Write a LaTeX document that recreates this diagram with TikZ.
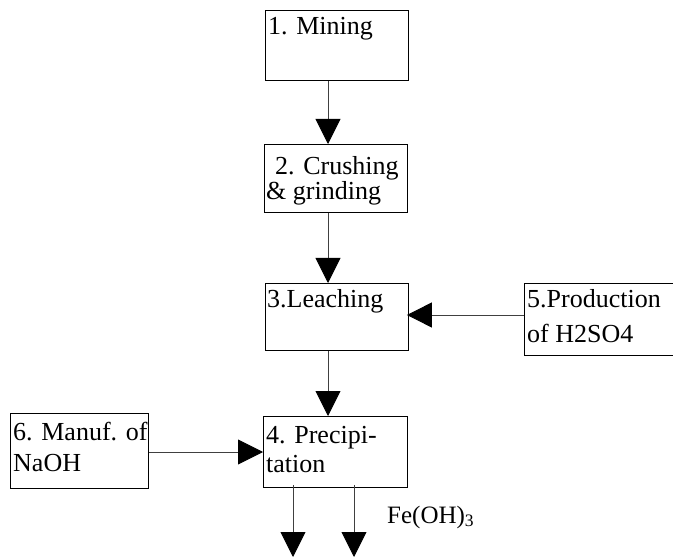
\documentclass[tikz,border=0pt]{standalone}
\usepackage{fontspec}
\setmainfont{Liberation Serif}
\usetikzlibrary{arrows.meta}

\begin{document}
\begin{tikzpicture}[x=1pt,y=-1pt,
  stepbox/.style={draw=black,line width=0.9pt,rectangle,inner sep=0pt},
  lbl/.style={anchor=base west,inner sep=0pt,font=\fontsize{26}{26}\selectfont},
  flow/.style={draw=black!75,line width=0.9pt,-{Triangle[length=25pt,width=25pt,color=black]}}]

  \useasboundingbox (0,0) rectangle (673,559);
  \clip (0,0) rectangle (673,559);

  % process boxes
  \node[stepbox,minimum width=143pt,minimum height=70pt,anchor=north west] (b1) at (265,10) {};
  \node[stepbox,minimum width=143pt,minimum height=68pt,anchor=north west] (b2) at (264,144) {};
  \node[stepbox,minimum width=143pt,minimum height=67pt,anchor=north west] (b3) at (265,283) {};
  \node[stepbox,minimum width=170pt,minimum height=72pt,anchor=north west] (b5) at (524,283) {};
  \node[stepbox,minimum width=138pt,minimum height=75pt,anchor=north west] (b6) at (10,413) {};
  \node[stepbox,minimum width=144pt,minimum height=71pt,anchor=north west] (b4) at (263,416) {};

  % box texts
  \node[lbl] (t1) at (268,35) {1. Mining};
  \node[lbl] (t2a) at (275,175) {2. Crushing};
  \node[lbl] (t2b) at (266,200) {\& grinding};
  \node[lbl] (t3) at (267,308) {3.Leaching};
  \node[lbl] (t5a) at (527,308) {5.Production};
  \node[lbl] (t5b) at (527,342) {of H2SO4};
  \node[lbl] (t6a) at (13,440) {6. Manuf. of};
  \node[lbl] (t6b) at (13,471) {NaOH};
  \node[lbl] (t4a) at (266,443) {4. Precipi-};
  \node[lbl] (t4b) at (266,472) {tation};

  % outlet ends below the precipitation box
  \coordinate (outA) at (293,557);
  \coordinate (outB) at (354,557);
  \node[lbl,font=\fontsize{25}{25}\selectfont] (fe) at (387,523) {Fe(OH)\textsubscript{3}};

  % flow connectors
  \draw[flow] ([xshift=63pt]b1.south west) -- ([xshift=64pt]b2.north west);
  \draw[flow] ([xshift=64pt]b2.south west) -- ([xshift=63pt]b3.north west);
  \draw[flow] ([yshift=-32pt]b5.north west) -- ([yshift=-32pt,xshift=-2pt]b3.north east);
  \draw[flow] ([xshift=63pt]b3.south west) -- ([xshift=65pt]b4.north west);
  \draw[flow] ([yshift=-39pt]b6.north east) -- ([yshift=-36pt]b4.north west);
  \draw[flow] ([xshift=30pt,yshift=3pt]b4.south west) -- (outA);
  \draw[flow] ([xshift=91pt,yshift=3pt]b4.south west) -- (outB);
\end{tikzpicture}
\end{document}
